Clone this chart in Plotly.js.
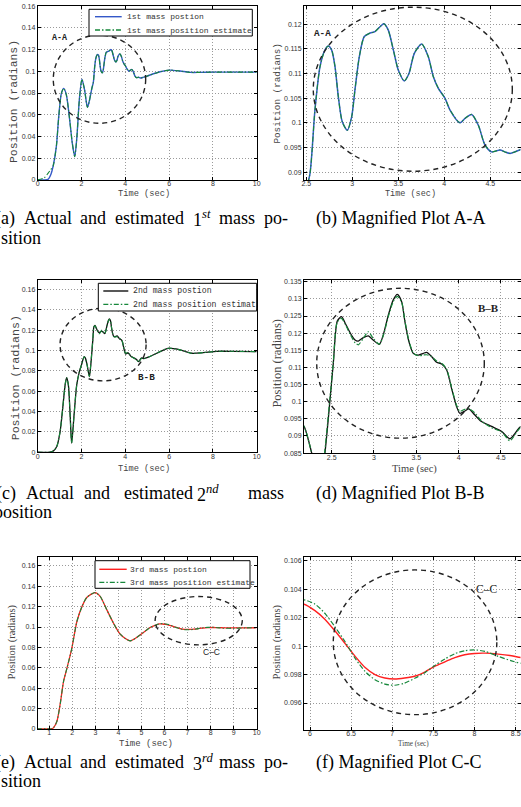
<!DOCTYPE html>
<html><head><meta charset="utf-8">
<script src="https://cdn.plot.ly/plotly-3.0.1.min.js"></script>
<style>html,body{margin:0;padding:0;background:#fff;}#chart{width:521px;height:807px;}</style>
</head><body><div id="chart"></div>
<script>
// ---------- DATA ----------
// Mass 1 (time in s, position in rad)
const t1 = [0,0.3,0.47,0.6,0.7,0.85,0.96,1.08,1.19,1.31,1.46,1.58,1.69,1.79,1.9,2.02,2.14,2.27,2.35,2.42,2.48,2.54,2.594,2.649,2.703,2.739,2.775,2.812,2.848,2.891,2.946,2.993,3.029,3.076,3.13,3.192,3.246,3.301,3.344,3.391,3.446,3.5,3.565,3.616,3.674,3.754,3.826,3.88,3.935,4.007,4.062,4.17,4.225,4.297,4.37,4.442,4.514,4.605,4.659,4.714,4.833,4.95,5.13,5.59,6.04,6.5,6.96,7.41,8,9,10];
const mass1Actual = [0,0,0.0005,0.005,0.0122,0.0306,0.0582,0.0797,0.0843,0.078,0.0552,0.0337,0.0214,0.0398,0.0736,0.0926,0.0828,0.0668,0.072,0.079,0.085,0.0897,0.1026,0.1114,0.1148,0.1156,0.1148,0.1114,0.1053,0.1002,0.0985,0.1012,0.1067,0.1134,0.1175,0.1182,0.1185,0.1195,0.1201,0.1188,0.1148,0.1107,0.1085,0.11,0.1141,0.116,0.1134,0.1094,0.107,0.105,0.1026,0.1,0.1009,0.1017,0.0995,0.0955,0.0941,0.0945,0.0941,0.0938,0.0946,0.0952,0.0966,0.0996,0.1011,0.1002,0.099,0.099,0.0992,0.0992,0.0992];
const mass1Estimate = [0,0.002,0.006,0.0095,0.0125,0.0306,0.0582,0.0797,0.0843,0.078,0.0552,0.0337,0.0214,0.0398,0.0736,0.0926,0.0828,0.0668,0.072,0.079,0.085,0.0897,0.1026,0.1114,0.1148,0.1156,0.1148,0.1114,0.1053,0.1002,0.0985,0.1012,0.1067,0.1134,0.1175,0.1182,0.1185,0.1195,0.1201,0.1188,0.1148,0.1107,0.1085,0.11,0.1141,0.116,0.1134,0.1094,0.107,0.105,0.1026,0.1,0.1009,0.1017,0.0995,0.0955,0.0941,0.0945,0.0941,0.0938,0.0946,0.0952,0.0966,0.0996,0.1011,0.1002,0.099,0.099,0.0992,0.0992,0.0992];

// Mass 2
const t2 = [0,0.56,0.72,0.87,1.02,1.14,1.25,1.32,1.4,1.48,1.55,1.66,1.78,1.9,2.0,2.12,2.173,2.264,2.36,2.42,2.48,2.52,2.566,2.615,2.66,2.72,2.776,2.815,2.874,2.933,2.99,3.063,3.11,3.17,3.228,3.276,3.327,3.366,3.413,3.465,3.524,3.583,3.622,3.68,3.74,3.8,3.858,3.917,3.976,4.016,4.075,4.12,4.19,4.27,4.39,4.51,4.606,4.736,4.85,5.05,5.43,5.97,6.5,7.03,7.56,8.17,8.93,10];
const mass2Actual = [0,0,0.0013,0.0056,0.02,0.043,0.066,0.0734,0.066,0.0367,0.0089,0.0367,0.066,0.079,0.086,0.094,0.0928,0.085,0.0744,0.085,0.1005,0.1115,0.1235,0.1248,0.1229,0.12,0.118,0.1177,0.1187,0.1192,0.118,0.1167,0.1195,0.1253,0.1297,0.1313,0.1292,0.1233,0.1175,0.1141,0.1136,0.1141,0.1144,0.1132,0.1115,0.111,0.1093,0.1039,0.0986,0.0966,0.0973,0.0979,0.0962,0.0942,0.0928,0.0913,0.0892,0.0927,0.0922,0.0935,0.0974,0.1023,0.1007,0.0974,0.098,0.0993,0.0993,0.099];
const mass2Estimate = [0,0,0.0013,0.0056,0.02,0.043,0.066,0.0734,0.066,0.0367,0.0089,0.0367,0.066,0.079,0.086,0.094,0.0928,0.085,0.0744,0.086,0.1012,0.1118,0.1232,0.1243,0.1226,0.1196,0.1172,0.1166,0.1185,0.1204,0.1185,0.1168,0.1193,0.1249,0.1292,0.1307,0.129,0.1235,0.1178,0.1142,0.1134,0.1136,0.1137,0.1132,0.1119,0.1112,0.1095,0.1042,0.099,0.0972,0.0978,0.098,0.0968,0.0944,0.0924,0.0912,0.0886,0.0925,0.0922,0.0935,0.0974,0.1023,0.1007,0.0974,0.098,0.0993,0.0993,0.099];

// Mass 3
const t3 = [0,1.0,1.1,1.19,1.33,1.48,1.62,1.77,1.98,2.2,2.42,2.63,2.99,3.21,3.5,3.79,4.08,4.51,4.95,5.38,5.65,5.8,5.927,6.06,6.18,6.3,6.425,6.547,6.67,6.79,6.91,7.03,7.15,7.28,7.4,7.52,7.64,7.76,7.88,8.0,8.13,8.29,8.45,8.565,9,9.5,10];
const mass3Actual = [0,0,0,0.0013,0.0072,0.025,0.0465,0.0596,0.079,0.1054,0.12,0.129,0.1338,0.13,0.1168,0.1037,0.0929,0.0864,0.0923,0.0995,0.1022,0.103,0.10296,0.1025,0.1019,0.1011,0.1002,0.0993,0.0985,0.098,0.09776,0.09769,0.09776,0.0979,0.0982,0.0986,0.0989,0.0992,0.0994,0.09949,0.09951,0.09944,0.09933,0.0992,0.0991,0.0992,0.0993];
const mass3Estimate = [0,0,0,0.0013,0.0072,0.025,0.0465,0.0596,0.079,0.1054,0.12,0.129,0.1338,0.13,0.1168,0.1037,0.0929,0.0864,0.0923,0.0995,0.1022,0.1032,0.10326,0.10296,0.10232,0.10139,0.10033,0.09916,0.09822,0.09764,0.09733,0.09725,0.0974,0.09776,0.09815,0.09865,0.0991,0.09947,0.09968,0.09974,0.09963,0.09928,0.09897,0.0988,0.0987,0.0991,0.0993];

const legend1 = ['1st mass postion','1st mass position estimate'];
const legend2 = ['2nd mass postion','2nd mass position estimat'];
const legend3 = ['3rd mass postion','3rd mass position estimate'];

// ---------- LAYOUT HELPERS ----------
const W = 521, H = 807;
const px = v => v / W;
const py = v => 1 - v / H;
const MONO = 'Liberation Mono, DejaVu Sans Mono, monospace';
const SERIF = 'Liberation Serif, Times New Roman, serif';
const SANS = 'Liberation Sans, Arial, sans-serif';
const BLUE = '#3458c8', GREEN = '#16873a', BLACK = '#111111', RED = '#ff2020';
const DASHDOT = '5px,2px,1.5px,2px';

function axis(dom, range, tick0, dtick, isX) {
  const a = {
    domain: isX ? [px(dom[0]), px(dom[1])] : [py(dom[1]), py(dom[0])],
    range: range, autorange: false, tickmode: 'linear', tick0: tick0, dtick: dtick,
    showline: true, linecolor: '#000', linewidth: 1, mirror: 'ticks',
    ticks: 'inside', ticklen: 3, tickwidth: 1, tickcolor: '#000',
    showgrid: true, gridcolor: '#9a9a9a', griddash: '1px,2px', gridwidth: 1,
    zeroline: false, fixedrange: true,
    tickfont: {family: SANS, size: 7, color: '#333'}
  };
  if (isX) a.ticklabelstandoff = -3;
  return a;
}
function tr(x, y, k, color, width, dash) {
  return {type: 'scatter', mode: 'lines', x: x, y: y,
    xaxis: k === 1 ? 'x' : 'x' + k, yaxis: k === 1 ? 'y' : 'y' + k,
    line: {color: color, width: width, dash: dash || 'solid', shape: 'spline', smoothing: 0.7},
    hoverinfo: 'skip', showlegend: false};
}
function ann(text, x, y, size, family, extra) {
  return Object.assign({xref: 'paper', yref: 'paper', x: px(x), y: py(y), text: text,
    showarrow: false, xanchor: 'center', yanchor: 'middle', borderpad: 0,
    font: {family: family, size: size, color: '#000'}}, extra || {});
}
function ellipse(k, x0, x1, y0, y1) {
  return {type: 'circle', xref: k === 1 ? 'x' : 'x' + k, yref: k === 1 ? 'y' : 'y' + k,
    x0: x0, x1: x1, y0: y0, y1: y1, line: {color: '#222', width: 1.4, dash: '5px,4px'}};
}

const LX = [37.7, 256.7], RX = [304, 520.5];

const layout = {
  width: W, height: H, margin: {l: 0, r: 0, t: 0, b: 0},
  paper_bgcolor: '#fff', plot_bgcolor: '#fff', showlegend: false,
  xaxis:  Object.assign(axis(LX, [-0.001, 10.001], 0, 2, true), {anchor: 'y'}),
  yaxis:  Object.assign(axis([6, 180], [-0.0001, 0.1601], 0, 0.02, false), {anchor: 'x'}),
  xaxis2: Object.assign(axis(RX, [2.475, 4.828], 2.5, 0.5, true), {anchor: 'y2'}),
  yaxis2: Object.assign(axis([6, 180], [0.0884, 0.1237], 0.09, 0.005, false), {anchor: 'x2'}),
  xaxis3: Object.assign(axis(LX, [-0.001, 10.001], 0, 2, true), {anchor: 'y3'}),
  yaxis3: Object.assign(axis([280, 452.3], [-0.0001, 0.1695], 0, 0.02, false), {anchor: 'x3'}),
  xaxis4: Object.assign(axis(RX, [2.1726, 4.732], 2.5, 0.5, true), {anchor: 'y4'}),
  yaxis4: Object.assign(axis([280, 453.3], [0.08495, 0.1355], 0.085, 0.005, false), {anchor: 'x4'}),
  xaxis5: Object.assign(axis(LX, [0.5, 10.001], 0, 1, true), {anchor: 'y5'}),
  yaxis5: Object.assign(axis([556.7, 729], [-0.0001, 0.169], 0, 0.02, false), {anchor: 'x5'}),
  xaxis6: Object.assign(axis(RX, [5.927, 8.559], 6, 0.5, true), {anchor: 'y6'}),
  yaxis6: Object.assign(axis([556.7, 730], [0.0941, 0.1063], 0.096, 0.002, false), {anchor: 'x6'}),
  shapes: [
    ellipse(1, 0.71, 4.93, 0.0521, 0.1333),
    ellipse(2, 2.576, 4.739, 0.09018, 0.12346),
    ellipse(3, 1.02, 4.95, 0.0702, 0.1417),
    ellipse(4, 2.323, 4.304, 0.08937, 0.13308),
    ellipse(5, 5.593, 9.375, 0.0825, 0.1299),
    ellipse(6, 6.283, 8.271, 0.09518, 0.10537)
  ],
  annotations: []
};

// legend boxes (drawn as shapes + text)
function legendBox(x0, x1, y0, y1, lx0, lx1, ya, yb, c1, textX, labels, size) {
  layout.shapes.push({type: 'rect', xref: 'paper', yref: 'paper', x0: px(x0), x1: px(x1), y0: py(y1), y1: py(y0),
    fillcolor: '#fff', line: {color: '#000', width: 1}});
  layout.shapes.push({type: 'line', xref: 'paper', yref: 'paper', x0: px(lx0), x1: px(lx1), y0: py(ya), y1: py(ya),
    line: {color: c1, width: 1.4}});
  layout.shapes.push({type: 'line', xref: 'paper', yref: 'paper', x0: px(lx0), x1: px(lx1), y0: py(yb), y1: py(yb),
    line: {color: GREEN, width: 1.3, dash: DASHDOT}});
  layout.annotations.push(ann(labels[0], textX, ya, size, MONO, {xanchor: 'left', font: {family: MONO, size: size, color: '#333'}}));
  layout.annotations.push(ann(labels[1], textX, yb, size, MONO, {xanchor: 'left', font: {family: MONO, size: size, color: '#333'}}));
}
legendBox(89, 252.3, 9.3, 36, 95, 121.7, 16.7, 30, BLUE, 126, legend1, 8);
legendBox(98.3, 256.7, 283.3, 311, 103.3, 128.3, 291, 304.3, BLACK, 131.7, legend2, 8.2);
legendBox(95, 250, 560.7, 588.3, 99.3, 126.7, 569.3, 582.3, RED, 129.3, legend3, 8);

const A = layout.annotations;
const GRAY = '#444';
// axis titles
A.push(ann('Time (sec)', 144, 194, 8.7, MONO, {font: {family: MONO, size: 8.7, color: GRAY}}));
A.push(ann('Position (radians)', 14, 102, 11.4, MONO, {textangle: -90, font: {family: MONO, size: 11.4, color: GRAY}}));
A.push(ann('Time (sec)', 410, 194, 8.5, MONO, {font: {family: MONO, size: 8.5, color: GRAY}}));
A.push(ann('Position (radians)', 277.3, 93.3, 9.3, MONO, {textangle: -90, font: {family: MONO, size: 9.3, color: GRAY}}));
A.push(ann('Time (sec)', 144, 468.5, 8.7, MONO, {font: {family: MONO, size: 8.7, color: GRAY}}));
A.push(ann('Position (radians)', 15, 378.3, 11.6, MONO, {textangle: -90, font: {family: MONO, size: 11.6, color: GRAY}}));
A.push(ann('Time (sec)', 414, 468.5, 10.5, SERIF, {font: {family: SERIF, size: 10.5, color: GRAY}}));
A.push(ann('Position (radians)', 277.3, 363.3, 12.5, SERIF, {textangle: -90, font: {family: SERIF, size: 12.5, color: GRAY}}));
A.push(ann('Time (sec)', 146, 744, 9, MONO, {font: {family: MONO, size: 9, color: GRAY}}));
A.push(ann('Position (radians)', 11.7, 641.7, 10.5, SERIF, {textangle: -90, font: {family: SERIF, size: 10.5, color: GRAY}}));
A.push(ann('Time (sec)', 413.5, 744, 7.2, SERIF, {font: {family: SERIF, size: 7.2, color: GRAY}}));
A.push(ann('Position (radians)', 276.7, 641.7, 10.5, SERIF, {textangle: -90, font: {family: SERIF, size: 10.5, color: GRAY}}));

// zoom region labels
A.push(ann('<b>A-A</b>', 59, 37.7, 8.3, MONO, {font: {family: MONO, size: 8.3, color: '#222'}}));
A.push(ann('<b>A-A</b>', 322.7, 33.3, 9.3, MONO, {font: {family: MONO, size: 9.3, color: '#222'}}));
A.push(ann('<b>B-B</b>', 146.7, 377.7, 9.3, MONO, {font: {family: MONO, size: 9.3, color: '#222'}}));
A.push(ann('<b>B–B</b>', 488.3, 308.3, 11, SERIF, {font: {family: SERIF, size: 11, color: '#222'}}));
A.push(ann('C–C', 211.7, 651.7, 8.5, SANS, {font: {family: SANS, size: 8.5, color: '#222'}}));
A.push(ann('C–C', 486.7, 589.3, 11.5, SERIF, {font: {family: SERIF, size: 11.5, color: '#222'}}));

// captions
function words(list, y) {
  list.forEach(function (w) { A.push(ann(w[0], w[1], y, 18, SERIF, {xanchor: 'left'})); });
}
words([['(a)', -6], ['Actual', 22.7], ['and', 79.4], ['estimated', 114.1], ['1<sup><i>st</i></sup>', 191.8], ['mass', 217.9], ['po-', 262.6]], 218);
A.push(ann('sition', 42, 238, 18, SERIF, {xanchor: 'right'}));
A.push(ann('(b) Magnified Plot A-A', 315, 218, 18, SERIF, {xanchor: 'left'}));
words([['(c)', -5], ['Actual', 25], ['and', 83.3], ['estimated', 122.7], ['2<sup><i>nd</i></sup>', 196], ['mass', 247.3]], 493);
A.push(ann('position', 53.3, 512, 18, SERIF, {xanchor: 'right'}));
A.push(ann('(d) Magnified Plot B-B', 315, 493, 18, SERIF, {xanchor: 'left'}));
words([['(e)', -6], ['Actual', 22.7], ['and', 79.4], ['estimated', 114.1], ['3<sup><i>rd</i></sup>', 191.8], ['mass', 217.9], ['po-', 262.6]], 762);
A.push(ann('sition', 42, 781, 18, SERIF, {xanchor: 'right'}));
A.push(ann('(f) Magnified Plot C-C', 315, 762, 18, SERIF, {xanchor: 'left'}));

const data = [
  tr(t1, mass1Actual, 1, BLUE, 1.4), tr(t1, mass1Estimate, 1, GREEN, 1.1, DASHDOT),
  tr(t1, mass1Actual, 2, BLUE, 1.5), tr(t1, mass1Estimate, 2, GREEN, 1.1, DASHDOT),
  tr(t2, mass2Actual, 3, BLACK, 1.3), tr(t2, mass2Estimate, 3, GREEN, 1.1, DASHDOT),
  tr(t2, mass2Actual, 4, BLACK, 1.3), tr(t2, mass2Estimate, 4, GREEN, 1.2, DASHDOT),
  tr(t3, mass3Actual, 5, RED, 1.3), tr(t3, mass3Estimate, 5, GREEN, 1.1, DASHDOT),
  tr(t3, mass3Actual, 6, RED, 1.4), tr(t3, mass3Estimate, 6, GREEN, 1.2, DASHDOT)
];

Plotly.newPlot('chart', data, layout, {staticPlot: true, displayModeBar: false});
</script></body></html>
